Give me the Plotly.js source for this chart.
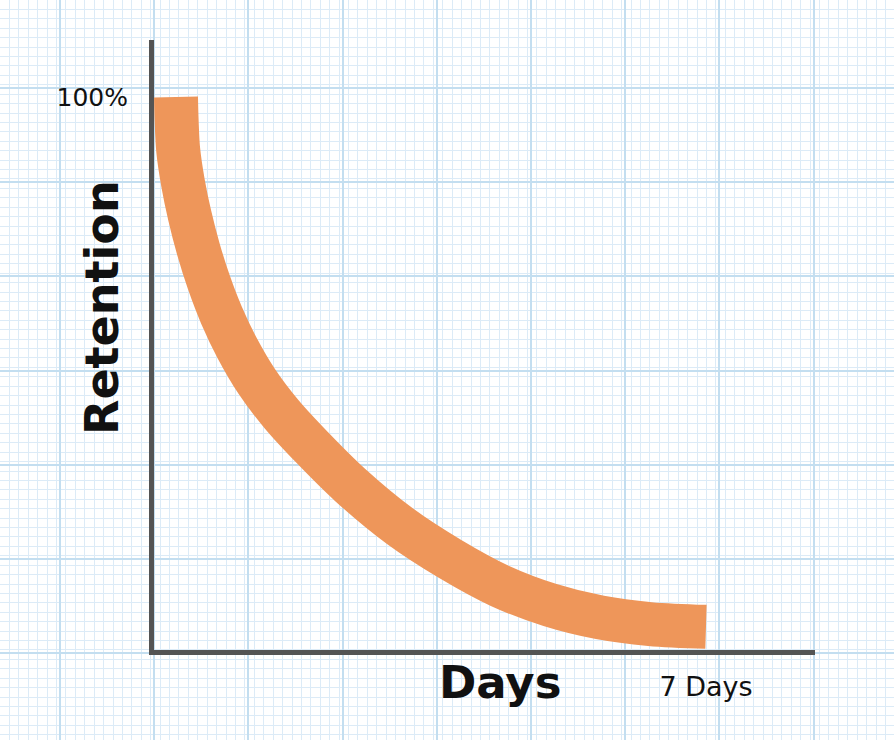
<!DOCTYPE html>
<html>
<head>
<meta charset="utf-8">
<script src="https://cdn.plot.ly/plotly-3.0.1.min.js"></script>
<style>html,body{margin:0;padding:0;background:#fff;}#chart{width:894px;height:740px;}</style>
</head>
<body>
<div id="chart"></div>
<script>
// Data
var days = [0, 0.008, 0.029, 0.093, 0.182, 0.295, 0.433, 0.601, 0.806, 1.063, 1.393, 1.796, 2.298, 2.959, 3.619, 4.279, 4.94, 5.6, 6.26, 7];
var retention = [100, 95.8, 90.4, 84.4, 78.5, 72.5, 66.5, 60.5, 54.6, 48.6, 42.6, 36.6, 29.8, 22.3, 16.4, 11.5, 8.05, 5.8, 4.6, 4.1];
var yTickVals = [100];
var yTickText = ['100%'];
var xTickVals = [7];
var xTickText = ['7 Days'];
var yTitle = 'Retention';
var xTitle = 'Days';

var W = 894, H = 740;
// pixel geometry of the plot frame
var plotL = 154, plotR = 815, plotT = 40, plotB = 649.5;
var day0px = 176, day7px = 706;
var pxPerDay = (day7px - day0px) / 7;
var y100px = 97;
var pxPerPct = (plotB - y100px) / 100;

var traces = [
  {x: [], y: [], xaxis: 'x', yaxis: 'y', mode: 'lines', showlegend: false, hoverinfo: 'skip'},
  {
    x: days, y: retention, xaxis: 'x2', yaxis: 'y2',
    mode: 'lines', line: {color: '#ee965a', width: 44, shape: 'spline', smoothing: 1, simplify: false},
    showlegend: false, hoverinfo: 'skip'
  }
];

var layout = {
  width: W, height: H,
  margin: {l: 0, r: 0, t: 0, b: 0, pad: 0},
  paper_bgcolor: '#ffffff',
  plot_bgcolor: 'rgba(0,0,0,0)',
  showlegend: false,
  xaxis: {
    domain: [0, 1], range: [0, W], fixedrange: true,
    showticklabels: false, ticks: '', zeroline: false, showline: false,
    tick0: 60, dtick: 94.2, showgrid: true, gridcolor: '#c3def0', gridwidth: 2,
    minor: {dtick: 9.42, showgrid: true, gridcolor: '#dcebf7', gridwidth: 1}
  },
  yaxis: {
    domain: [0, 1], range: [H, 0], fixedrange: true,
    showticklabels: false, ticks: '', zeroline: false, showline: false,
    tick0: 88, dtick: 94.2, showgrid: true, gridcolor: '#c3def0', gridwidth: 2,
    minor: {dtick: 9.42, showgrid: true, gridcolor: '#dcebf7', gridwidth: 1}
  },
  xaxis2: {
    anchor: 'y2',
    domain: [plotL / W, plotR / W],
    range: [(plotL - day0px) / pxPerDay, (plotR - day0px) / pxPerDay],
    showgrid: false, zeroline: false,
    showline: true, linecolor: '#545454', linewidth: 5,
    ticks: '', tickvals: xTickVals, ticktext: xTickText,
    ticklabelstandoff: 9,
    tickfont: {family: 'DejaVu Sans', size: 27, color: '#111111'}
  },
  yaxis2: {
    anchor: 'x2',
    domain: [(H - plotB) / H, (H - plotT) / H],
    range: [0, (plotB - plotT) / pxPerPct],
    showgrid: false, zeroline: false,
    showline: true, linecolor: '#545454', linewidth: 5,
    ticks: '', tickvals: yTickVals, ticktext: yTickText,
    ticklabelstandoff: 16,
    tickfont: {family: 'DejaVu Sans', size: 25, color: '#111111'}
  },
  annotations: [
    {xref: 'paper', yref: 'paper', x: 102 / W, y: 1 - 308 / H, text: yTitle, textangle: -90,
     showarrow: false, xanchor: 'center', yanchor: 'middle',
     font: {family: 'DejaVu Sans', size: 46, color: '#111111', weight: 'bold'}},
    {xref: 'paper', yref: 'paper', x: 500 / W, y: 1 - 682 / H, text: xTitle,
     showarrow: false, xanchor: 'center', yanchor: 'middle',
     font: {family: 'DejaVu Sans', size: 45, color: '#111111', weight: 'bold'}}
  ]
};

Plotly.newPlot('chart', traces, layout, {staticPlot: true, displayModeBar: false});
</script>
</body>
</html>
